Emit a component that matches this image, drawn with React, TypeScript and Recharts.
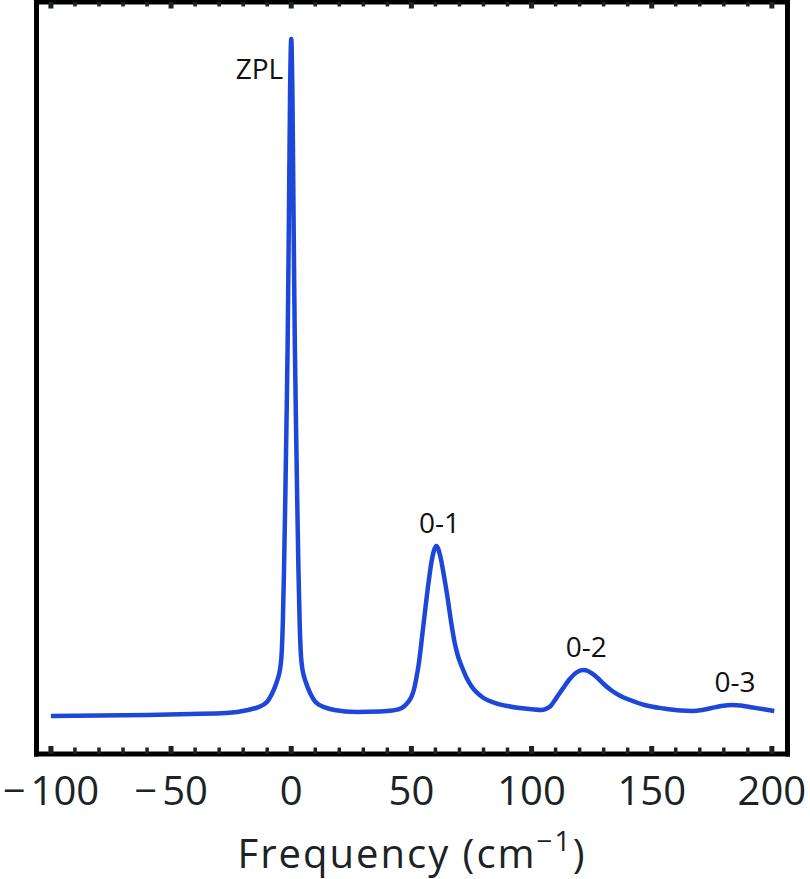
import React from "react";
import { LineChart, Line, XAxis, YAxis, ReferenceDot, Label } from "recharts";

// spectrum read point by point: frequency (cm^-1) and intensity (arb. units, 0-100 frame)
const FREQ = [
  -100, -80, -60, -42, -27, -18, -14, -10, -8, -6, -5, -4.5, -4, -3.5, -3, -2.5, -2, -1.5, -1, -0.5, 0,
  0.5, 1, 1.5, 2, 2.5, 3, 3.5, 4, 4.5, 5, 6, 8, 10, 14, 18, 27, 37, 42, 46, 47.5, 49, 50, 51, 52, 53,
  55, 57, 58.5, 60.4, 62, 63.5, 65, 66.5, 68, 69.5, 71, 73, 75, 80, 85, 90, 95, 100, 104, 106, 108,
  110, 113, 116, 118.5, 121.5, 123.5, 125.5, 127.5, 130, 133, 137, 141, 147, 155, 162, 167, 171, 175,
  179, 183.4, 187, 192, 196, 201,
];
const INTENSITY = [
  5.05, 5.12, 5.19, 5.32, 5.45, 5.85, 6.2, 6.95, 8.0, 9.6, 10.7, 11.6, 13.3, 17.5, 24.5, 33.5, 43.5,
  54.4, 70.2, 87.5, 95.08, 87.5, 70.2, 54.4, 43.5, 33.5, 24.5, 17.5, 13.3, 11.6, 10.7, 9.6, 8.0, 6.95,
  6.2, 5.85, 5.59, 5.65, 5.78, 6.12, 6.5, 7.05, 7.6, 8.51, 10.0, 11.84, 17.15, 22.47, 25.8, 27.66,
  26.33, 23.8, 20.9, 17.6, 14.8, 12.9, 11.6, 10.1, 9.0, 7.45, 6.78, 6.38, 6.12, 5.95, 5.85, 6.0, 6.4,
  7.3, 8.7, 10.0, 10.8, 11.17, 11.04, 10.64, 10.11, 9.31, 8.51, 7.71, 7.18, 6.52, 6.05, 5.78, 5.72,
  5.85, 6.12, 6.38, 6.52, 6.45, 6.18, 5.98, 5.72,
];

const X_TICKS = [
  -100, -90, -80, -70, -60, -50, -40, -30, -20, -10, 0, 10, 20, 30, 40, 50, 60, 70, 80, 90, 100,
  110, 120, 130, 140, 150, 160, 170, 180, 190, 200,
];
const MAJOR_TICKS = [-100, -50, 0, 50, 100, 150, 200];
const MAJOR_LABELS = ["\u2212100", "\u221250", "0", "50", "100", "150", "200"];

const PEAK_NAMES = ["ZPL", "0-1", "0-2", "0-3"];
const PEAK_FREQ = [0, 60.4, 121.5, 183.4];
const PEAK_INTENSITY = [95.08, 27.66, 11.17, 6.52];

const data = FREQ.map((f, i) => ({ f, v: INTENSITY[i] }));

const INK = "#1b2326";
const FONT = "'Open Sans', sans-serif";
const frameLine = { stroke: "#000", strokeWidth: 5, strokeLinecap: "square" as const };

function BottomTick(props: any) {
  const { x, y, payload } = props;
  const i = MAJOR_TICKS.indexOf(payload.value);
  const major = i >= 0;
  const label = major ? MAJOR_LABELS[i] : "";
  const neg = label.startsWith("\u2212");
  return (
    <g>
      <rect
        x={x - (major ? 2.5 : 1.75)}
        y={y - (major ? 8 : 6.5)}
        width={major ? 5 : 3.5}
        height={major ? 8 : 6.5}
        fill={INK}
      />
      {major && (
        <text x={x} y={y + 51} textAnchor="middle" fontSize={40} fill={INK} fontFamily={FONT}>
          {neg ? (
            <>
              <tspan>{"\u2212"}</tspan>
              <tspan dx={5}>{label.slice(1)}</tspan>
            </>
          ) : (
            label
          )}
        </text>
      )}
    </g>
  );
}

function TopTick(props: any) {
  const { x, y, payload } = props;
  const major = MAJOR_TICKS.includes(payload.value);
  return (
    <rect
      x={x - (major ? 2.5 : 1.75)}
      y={y}
      width={major ? 5 : 3.5}
      height={major ? 6.5 : 4.5}
      fill={INK}
    />
  );
}

function AxisTitle(props: any) {
  const vb = props.viewBox || {};
  const cx = vb.x + vb.width / 2;
  return (
    <text
      x={cx}
      y={vb.y + 114}
      textAnchor="middle"
      fontSize={40}
      letterSpacing={2}
      fill={INK}
      fontFamily={FONT}
    >
      Frequency (cm
      <tspan fontSize={28} dy={-17}>
        {"\u22121"}
      </tspan>
      <tspan dy={17}>)</tspan>
    </text>
  );
}

function peakLabel(name: string) {
  return (props: any) => {
    const { cx, cy } = props;
    if (name === "ZPL") {
      return (
        <text x={cx - 8} y={cy + 40} textAnchor="end" fontSize={28} fill="#111" fontFamily={FONT}>
          {name}
        </text>
      );
    }
    return (
      <text x={cx + 3} y={cy - 13} textAnchor="middle" fontSize={28} fill="#111" fontFamily={FONT}>
        {name}
      </text>
    );
  };
}

export default function App() {
  return (
    <div style={{ position: "absolute", left: 0, top: 0, width: 810, height: 879, background: "#fff" }}>
      <LineChart
        width={810}
        height={879}
        data={data}
        margin={{ top: 1, right: 21.5, bottom: 124, left: 35.5 }}
      >
        <XAxis
          dataKey="f"
          type="number"
          domain={[-106, 206.5]}
          allowDataOverflow
          ticks={X_TICKS}
          interval={0}
          height={1}
          tickSize={0}
          tickMargin={0}
          tickLine={false}
          axisLine={frameLine}
          tick={<BottomTick />}
        >
          <Label content={<AxisTitle />} />
        </XAxis>
        <XAxis
          xAxisId="top"
          orientation="top"
          dataKey="f"
          type="number"
          domain={[-106, 206.5]}
          allowDataOverflow
          ticks={X_TICKS}
          interval={0}
          height={1}
          tickSize={0}
          tickMargin={0}
          tickLine={false}
          axisLine={frameLine}
          tick={<TopTick />}
        />
        <YAxis domain={[0, 100]} width={1} tick={false} tickLine={false} axisLine={frameLine} />
        <YAxis
          yAxisId="right"
          orientation="right"
          domain={[0, 100]}
          width={1}
          tick={false}
          tickLine={false}
          axisLine={frameLine}
        />
        <Line
          dataKey="v"
          type="monotone"
          stroke="#1d47d9"
          strokeWidth={4.5}
          dot={false}
          isAnimationActive={false}
        />
        {PEAK_NAMES.map((name, i) => (
          <ReferenceDot
            key={name}
            x={PEAK_FREQ[i]}
            y={PEAK_INTENSITY[i]}
            r={0}
            ifOverflow="visible"
            shape={peakLabel(name)}
          />
        ))}
      </LineChart>
    </div>
  );
}
